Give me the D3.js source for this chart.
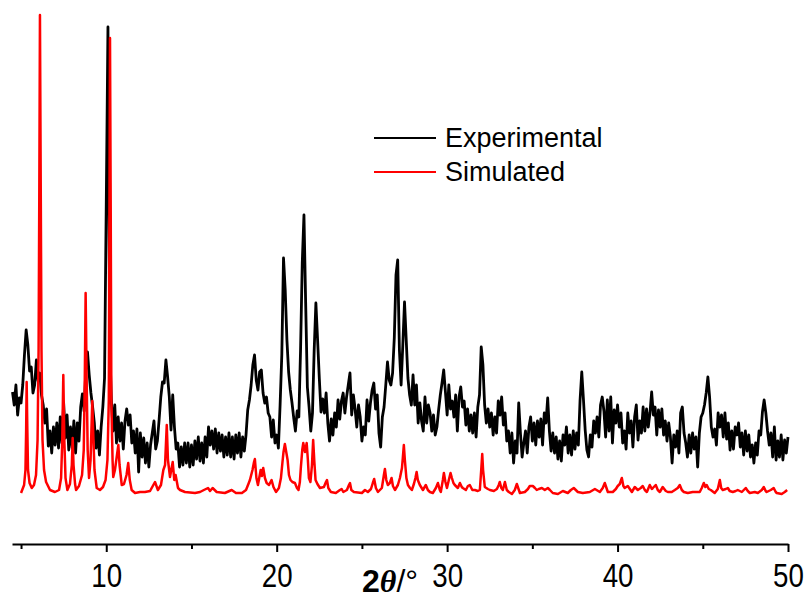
<!DOCTYPE html>
<html>
<head>
<meta charset="utf-8">
<script src="https://cdn.jsdelivr.net/npm/d3@7"></script>
<style>
  body { margin: 0; background: #fff; }
  svg { display: block; }
</style>
</head>
<body>
<svg id="chart" width="810" height="598"></svg>
<script>
// experimental pattern: 2theta start/step and intensities (a.u.)
const expStart = 4.5
const expStep = 0.1
const expCounts = [
  101, 88, 108, 78, 95,
  90, 108, 138, 163, 148, 122, 126, 100, 108, 133,
  112, 120, 98, 88, 70, 84, 47, 62, 40, 66,
  48, 70, 45, 76, 50, 90, 55, 78, 43, 66,
  45, 72, 40, 70, 52, 86, 99, 82, 123, 141,
  118, 100, 86, 70, 45, 62, 38, 66, 86, 115,
  288, 466, 150, 93, 62, 88, 50, 76, 52, 70,
  44, 72, 84, 68, 78, 50, 62, 40, 64, 21,
  60, 36, 55, 30, 50, 26, 48, 60, 72, 44,
  52, 73, 96, 111, 110, 133, 116, 96, 63, 98,
  66, 44, 50, 26, 46, 28, 50, 30, 50, 26,
  48, 28, 52, 34, 56, 32, 50, 30, 56, 36,
  66, 48, 62, 44, 64, 40, 60, 42, 58, 36,
  56, 38, 60, 36, 56, 34, 58, 40, 60, 36,
  56, 42, 58, 83, 93, 108, 128, 138, 113, 103,
  121, 123, 100, 90, 96, 80, 76, 56, 73, 50,
  58, 45, 88, 138, 235, 203, 153, 121, 103, 90,
  75, 62, 82, 76, 143, 230, 278, 190, 106, 86,
  62, 80, 143, 190, 153, 115, 81, 94, 80, 100,
  70, 52, 74, 58, 80, 66, 93, 74, 92, 100,
  80, 96, 108, 120, 78, 98, 84, 66, 88, 76,
  52, 66, 58, 93, 72, 90, 103, 110, 84, 98,
  60, 46, 76, 86, 108, 131, 113, 108, 120, 155,
  218, 233, 143, 108, 148, 191, 153, 115, 98, 88,
  118, 88, 108, 70, 90, 72, 62, 96, 70, 88,
  80, 62, 78, 58, 66, 83, 98, 110, 123, 101,
  78, 108, 84, 92, 76, 98, 62, 96, 106, 86,
  92, 68, 84, 62, 78, 60, 80, 56, 86, 98,
  146, 128, 88, 70, 84, 66, 80, 58, 76, 60,
  92, 78, 96, 68, 80, 52, 62, 40, 60, 30,
  52, 40, 90, 60, 36, 50, 62, 40, 66, 76,
  52, 70, 48, 72, 56, 74, 48, 80, 70, 95,
  62, 42, 60, 40, 56, 34, 52, 32, 58, 48,
  66, 40, 58, 38, 62, 44, 60, 48, 93, 121,
  93, 63, 43, 36, 58, 46, 72, 60, 76, 56,
  88, 96, 82, 56, 93, 62, 96, 50, 83, 70,
  88, 66, 80, 50, 62, 44, 80, 60, 72, 46,
  76, 88, 53, 72, 60, 86, 62, 84, 66, 80,
  101, 78, 86, 58, 83, 66, 84, 58, 72, 52,
  70, 56, 30, 58, 46, 62, 40, 80, 86, 60,
  50, 36, 58, 40, 60, 44, 56, 26, 60, 76,
  80, 88, 100, 116, 96, 66, 56, 64, 48, 80,
  66, 78, 56, 80, 54, 70, 43, 62, 44, 66,
  58, 70, 46, 60, 38, 62, 42, 58, 36, 48,
  30, 50, 38, 62, 58, 81, 93, 80, 62, 48,
  60, 36, 66, 33, 52, 36, 58, 33, 53, 40,
  56
]

// simulated pattern (2theta, intensity)
const simTheta = [
  5.00, 5.18, 5.26, 5.30, 5.33, 5.37, 5.41, 5.50, 5.63, 5.76, 5.88, 5.97, 6.03, 6.07, 6.11, 6.16, 6.20, 6.26, 6.35, 6.47,
  6.70, 6.99, 7.23, 7.35, 7.42, 7.48, 7.54, 7.61, 7.72, 7.87, 7.98, 8.03, 8.08, 8.17, 8.23, 8.40, 8.58, 8.68, 8.74, 8.79,
  8.85, 8.91, 8.99, 9.08, 9.13, 9.18, 9.23, 9.31, 9.44, 9.63, 9.81, 9.96, 10.07, 10.15, 10.19, 10.22, 10.26, 10.30, 10.37, 10.41,
  10.51, 10.63, 10.71, 10.78, 10.91, 11.04, 11.19, 11.29, 11.38, 11.49, 11.69, 11.98, 12.27, 12.57, 12.86, 13.03, 13.21, 13.35, 13.45, 13.55,
  13.62, 13.74, 13.90, 13.99, 14.07, 14.21, 14.33, 14.62, 15.21, 15.50, 15.73, 15.97, 16.09, 16.24, 16.48, 16.96, 17.36, 17.61, 17.96, 18.20,
  18.34, 18.43, 18.58, 18.67, 18.72, 18.81, 18.90, 19.06, 19.13, 19.21, 19.31, 19.41, 19.55, 19.70, 19.81, 19.96, 20.13, 20.25, 20.34, 20.40,
  20.48, 20.56, 20.64, 20.72, 20.81, 20.92, 21.07, 21.19, 21.28, 21.36, 21.42, 21.50, 21.56, 21.66, 21.76, 21.83, 21.89, 21.98, 22.07, 22.14,
  22.21, 22.28, 22.39, 22.54, 22.77, 22.89, 22.95, 23.03, 23.18, 23.47, 23.71, 23.81, 23.91, 24.12, 24.24, 24.30, 24.38, 24.53, 25.00, 25.18,
  25.35, 25.53, 25.64, 25.72, 25.82, 25.94, 26.17, 26.29, 26.35, 26.43, 26.52, 26.64, 26.74, 26.82, 26.94, 27.11, 27.23, 27.35, 27.40, 27.46,
  27.52, 27.61, 27.70, 27.82, 27.93, 28.05, 28.14, 28.21, 28.28, 28.40, 28.58, 28.75, 28.87, 28.99, 29.16, 29.34, 29.46, 29.57, 29.63, 29.75,
  29.81, 29.90, 29.99, 30.10, 30.20, 30.28, 30.37, 30.45, 30.63, 30.75, 30.86, 30.92, 31.10, 31.22, 31.33, 31.48, 31.63, 31.80, 31.92, 32.00,
  32.06, 32.11, 32.21, 32.39, 32.51, 32.74, 32.92, 33.03, 33.09, 33.18, 33.27, 33.39, 33.50, 33.62, 33.80, 33.97, 34.09, 34.27, 34.56, 34.74,
  34.85, 35.03, 35.15, 35.26, 35.38, 35.56, 35.73, 35.91, 36.03, 36.20, 36.50, 36.79, 37.08, 37.26, 37.43, 37.67, 37.96, 38.37, 38.67, 38.96,
  39.13, 39.25, 39.37, 39.43, 39.72, 39.90, 40.01, 40.13, 40.25, 40.34, 40.42, 40.60, 40.72, 40.84, 41.01, 41.19, 41.36, 41.48, 41.60, 41.72,
  41.89, 42.01, 42.07, 42.24, 42.36, 42.48, 42.65, 42.83, 42.95, 43.18, 43.36, 43.53, 43.65, 43.77, 43.89, 44.12, 44.41, 44.82, 44.94, 45.06,
  45.15, 45.23, 45.35, 45.47, 45.70, 45.88, 46.00, 46.08, 46.17, 46.35, 46.47, 46.58, 46.76, 46.93, 47.05, 47.29, 47.52, 47.64, 47.76, 48.05,
  48.23, 48.46, 48.58, 48.69, 48.75, 48.99, 49.16, 49.28, 49.34, 49.63, 49.81, 49.95
]
const simInt = [
  0, 8, 23, 63, 111, 63, 23, 10, 5, 8, 18, 53, 143, 293, 478, 293, 143, 53, 23, 11,
  3, 1, 3, 15, 53, 118, 53, 15, 3, 9, 28, 55, 28, 9, 3, 7, 18, 43, 113, 200,
  113, 43, 15, 33, 63, 92, 63, 23, 5, 3, 6, 13, 33, 93, 293, 455, 293, 93, 33, 16,
  23, 38, 48, 28, 8, 9, 18, 30, 13, 3, 0, 1, 1, 2, 11, 3, 8, 23, 28, 68,
  33, 16, 31, 13, 18, 5, 3, 1, 0, 1, 3, 5, 2, 5, 1, 0, 3, 0, 0, 3,
  9, 13, 23, 31, 34, 15, 8, 23, 17, 25, 15, 10, 8, 13, 6, 1, 5, 15, 31, 41,
  49, 41, 33, 18, 13, 11, 10, 5, 3, 11, 26, 43, 50, 41, 50, 33, 15, 11, 28, 53,
  31, 13, 9, 5, 6, 11, 13, 5, 1, 0, 3, 4, 1, 3, 8, 10, 3, 1, 0, 3,
  1, 4, 10, 14, 5, 1, 5, 18, 24, 13, 8, 10, 15, 7, 3, 8, 15, 25, 35, 48,
  33, 15, 8, 5, 3, 9, 15, 21, 13, 8, 3, 8, 3, 1, 0, 5, 10, 3, 1, 13,
  20, 11, 5, 13, 20, 15, 10, 8, 5, 10, 6, 5, 3, 7, 8, 3, 3, 2, 3, 23,
  39, 23, 6, 4, 3, 2, 4, 8, 11, 5, 3, 11, 3, 1, -1, 3, 9, 0, 1, 4,
  7, 7, 5, 3, 4, 5, 3, 5, 3, 0, -1, 2, 0, 3, 5, 1, 0, 1, 4, 1,
  5, 10, 4, 1, 1, 4, 7, 9, 15, 7, 5, 7, 4, 1, 6, 3, 5, 7, 3, 1,
  8, 4, 5, 8, 3, 1, 6, 2, 1, 1, 3, 5, 8, 3, 1, 0, 1, 1, 5, 10,
  6, 8, 4, 3, 0, 4, 13, 5, 3, 4, 5, 2, 1, 2, 3, 1, 5, 2, 0, 1,
  0, 3, 6, 2, 1, 3, 5, 1, 0, -1, 1, 3
]

const majorTicks = [10, 20, 30, 40, 50]
const minorTicks = [5, 15, 25, 35, 45]
const seriesNames = ['Experimental', 'Simulated']
const seriesColors = ['#000000', '#ff0000']

const expData = expCounts.map((v, i) => ({ x: +(expStart + i * expStep).toFixed(2), y: v }))
const simData = simTheta.map((t, i) => ({ x: t, y: simInt[i] }))

const svg = d3.select('#chart')

const xScale = d3.scaleLinear()
  .domain([4.47, 50])
  .range([12, 788])

const yScale = d3.scaleLinear()
  .domain([0, 478])
  .range([493, 15])

const line = d3.line()
  .x((d) => xScale(d.x))
  .y((d) => yScale(d.y))

// curves (simulated drawn over experimental)
svg.append('path')
  .datum(expData)
  .attr('fill', 'none')
  .attr('stroke', seriesColors[0])
  .attr('stroke-width', 2.8)
  .attr('stroke-linejoin', 'round')
  .attr('d', line)

svg.append('path')
  .datum(simData)
  .attr('fill', 'none')
  .attr('stroke', seriesColors[1])
  .attr('stroke-width', 2.5)
  .attr('stroke-linejoin', 'round')
  .attr('d', line)

// x axis
const axisG = svg.append('g')
  .attr('transform', 'translate(0, 544)')
  .call(d3.axisBottom(xScale)
    .tickValues(majorTicks)
    .tickSize(8)
    .tickSizeOuter(0)
    .tickPadding(12)
    .tickFormat(d3.format('d')))

axisG.select('.domain').attr('stroke-width', 2)
axisG.selectAll('.tick line').attr('stroke-width', 2)
axisG.selectAll('.tick text')
  .attr('font-family', '"Liberation Sans", Arial, sans-serif')
  .attr('font-size', 33)
  .attr('transform', 'scale(0.84, 1)')
  .attr('fill', '#000')

svg.append('g')
  .attr('transform', 'translate(0, 544)')
  .call(d3.axisBottom(xScale)
    .tickValues(minorTicks)
    .tickSize(5)
    .tickFormat(''))
  .call((g) => g.select('.domain').remove())
  .selectAll('.tick line').attr('stroke-width', 2)

// axis title 2θ/°
const title = svg.append('text')
  .attr('x', 362)
  .attr('y', 592)
  .attr('font-size', 32)
  .attr('fill', '#000')
title.append('tspan')
  .attr('font-family', '"Liberation Sans", Arial, sans-serif')
  .attr('font-weight', 'bold')
  .text('2')
title.append('tspan')
  .attr('font-family', '"Liberation Serif", "Times New Roman", serif')
  .attr('font-style', 'italic')
  .attr('font-weight', 'bold')
  .text('θ')
title.append('tspan')
  .attr('font-family', '"Liberation Sans", Arial, sans-serif')
  .text('/°')

// legend
const legend = svg.append('g')
seriesNames.forEach((name, i) => {
  const ly = 138 + i * 34
  legend.append('line')
    .attr('x1', 374).attr('x2', 436)
    .attr('y1', ly).attr('y2', ly)
    .attr('stroke', seriesColors[i])
    .attr('stroke-width', 2)
  legend.append('text')
    .attr('x', 445)
    .attr('y', ly + 9)
    .attr('font-family', '"Liberation Sans", Arial, sans-serif')
    .attr('font-size', 27)
    .attr('fill', '#000')
    .text(name)
})
</script>
</body>
</html>
